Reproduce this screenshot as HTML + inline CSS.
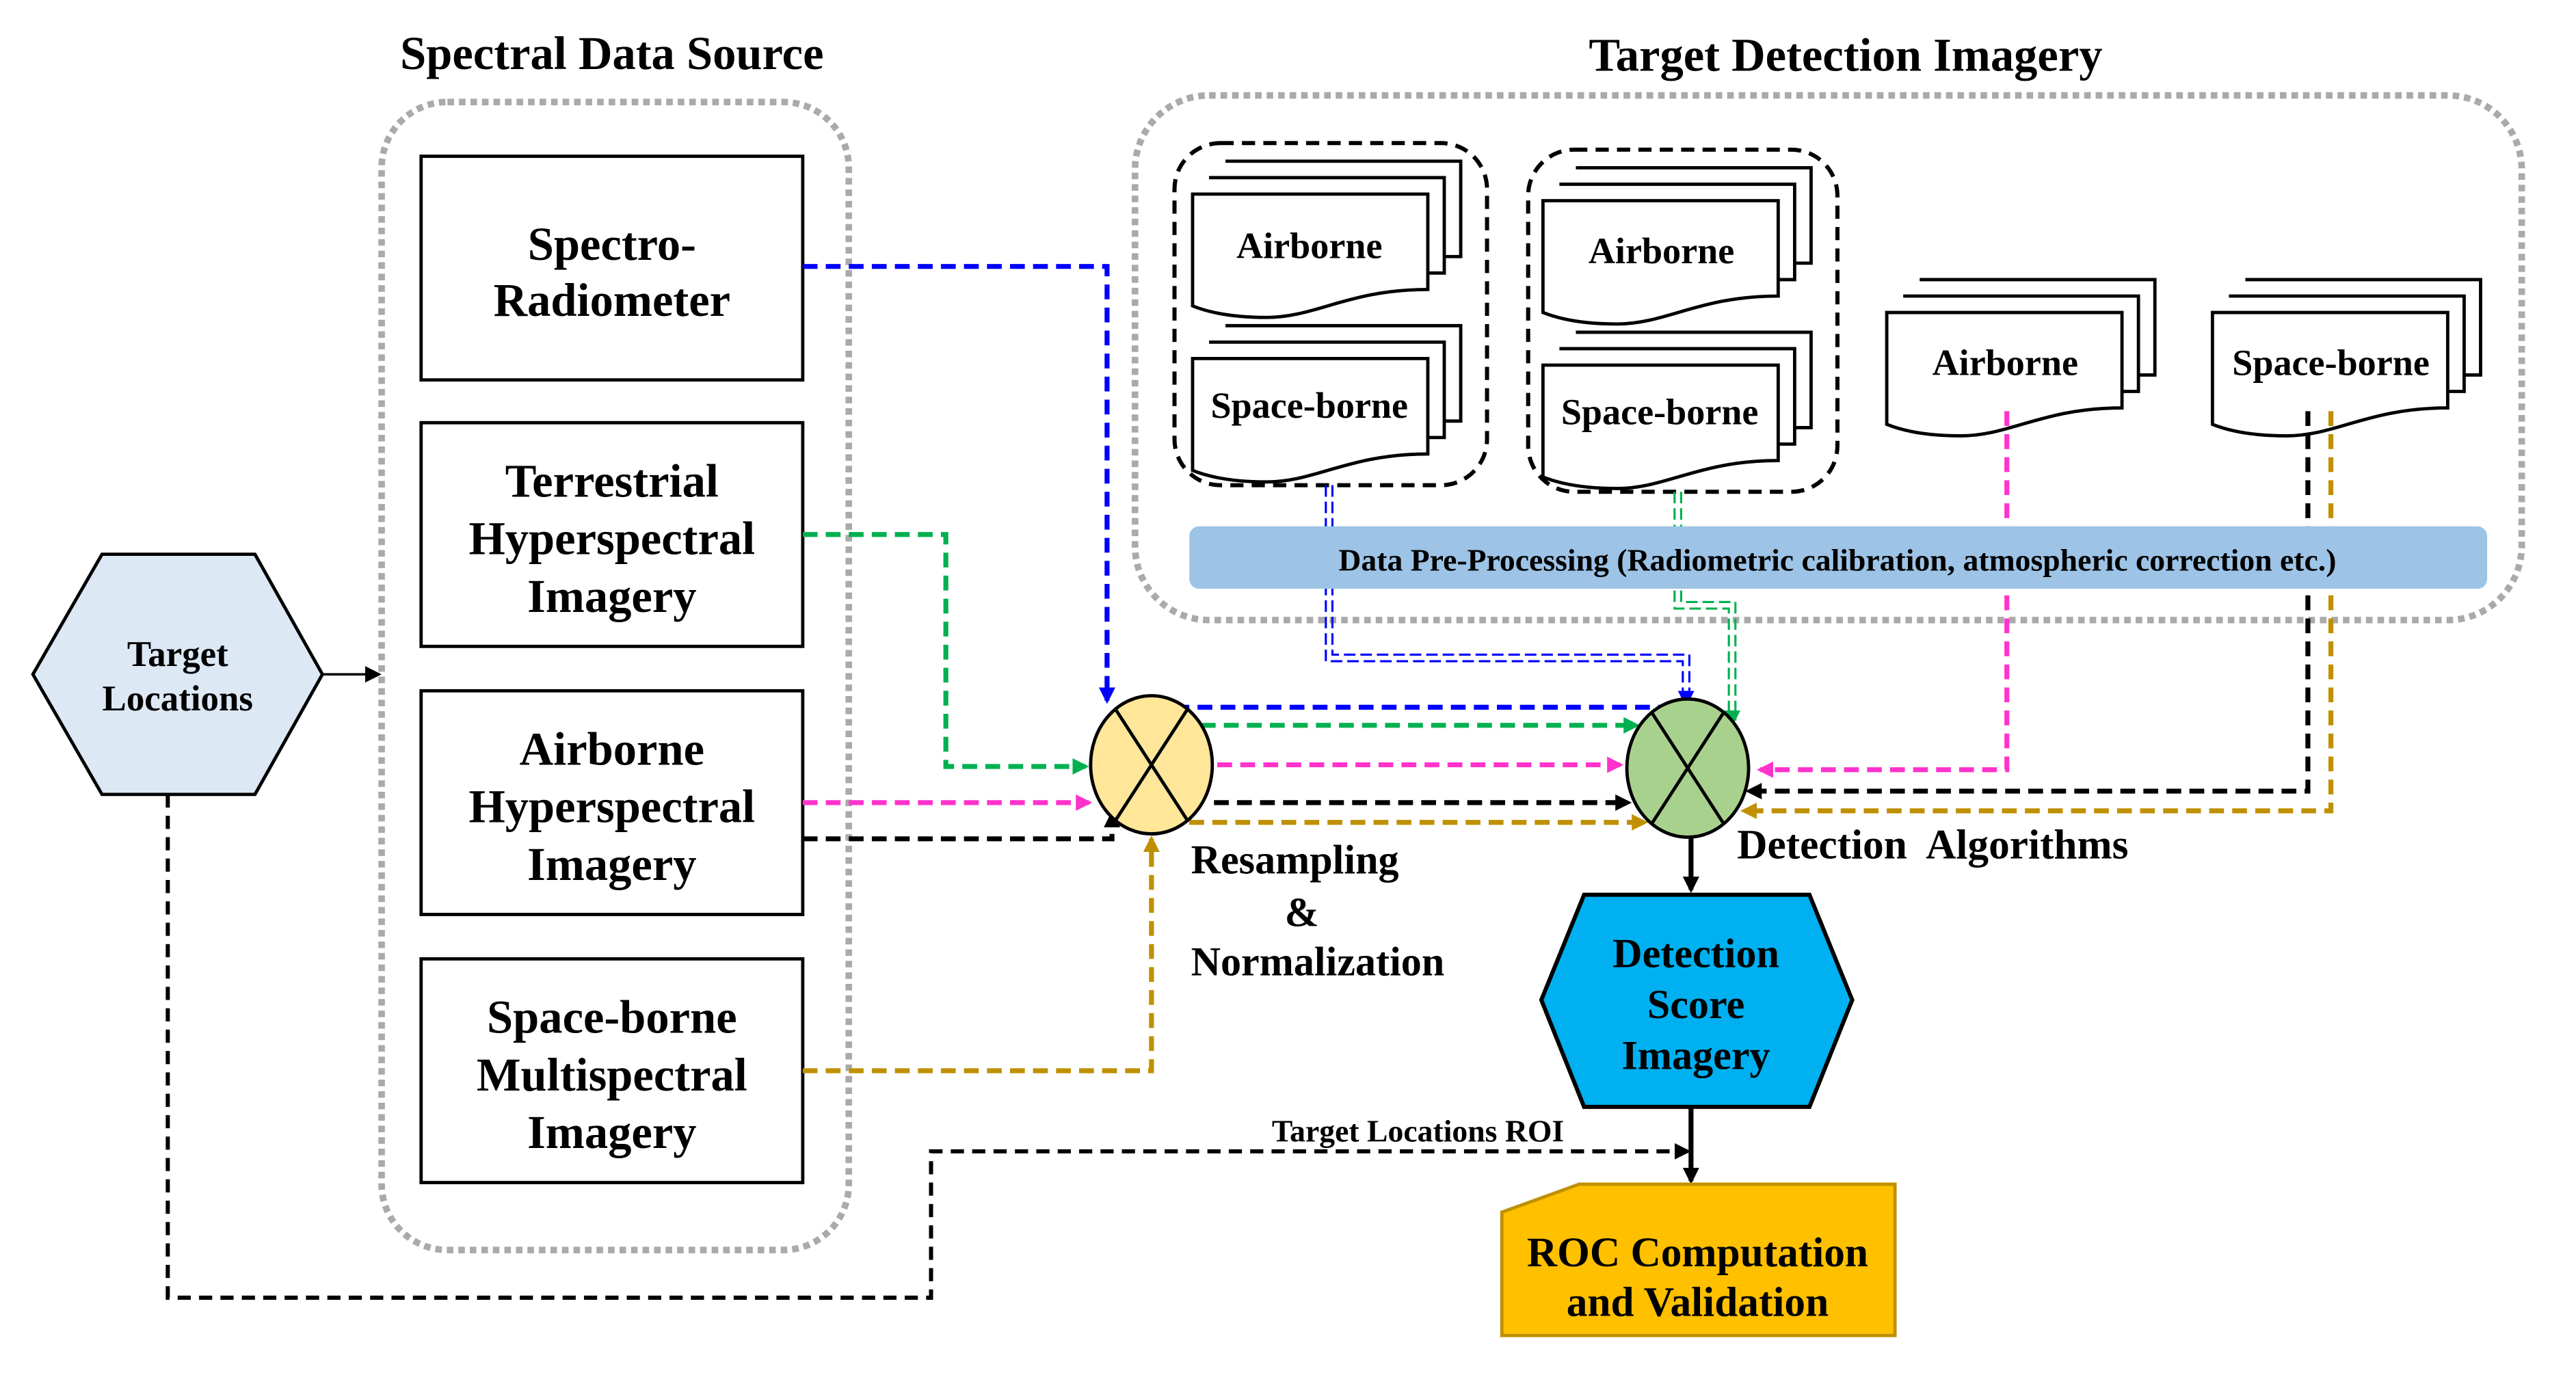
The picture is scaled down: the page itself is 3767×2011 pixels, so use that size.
<!DOCTYPE html>
<html><head><meta charset="utf-8"><style>html,body{margin:0;padding:0;background:#fff}svg{display:block}</style></head><body>
<svg width="3767" height="2011" viewBox="0 0 1566 836" preserveAspectRatio="none" xmlns="http://www.w3.org/2000/svg" font-family="Liberation Serif, serif" font-weight="bold">
<defs>
<marker id="ak" markerWidth="10" markerHeight="10" refX="8" refY="5" orient="auto" markerUnits="userSpaceOnUse"><path d="M0,0 L10,5 L0,10 z" fill="#000"/></marker>
<marker id="ab" markerWidth="10" markerHeight="10" refX="8" refY="5" orient="auto" markerUnits="userSpaceOnUse"><path d="M0,0 L10,5 L0,10 z" fill="#0000ff"/></marker>
<marker id="ag" markerWidth="10" markerHeight="10" refX="8" refY="5" orient="auto" markerUnits="userSpaceOnUse"><path d="M0,0 L10,5 L0,10 z" fill="#00b050"/></marker>
<marker id="ap" markerWidth="10" markerHeight="10" refX="8" refY="5" orient="auto" markerUnits="userSpaceOnUse"><path d="M0,0 L10,5 L0,10 z" fill="#ff33cc"/></marker>
<marker id="ao" markerWidth="10" markerHeight="10" refX="8" refY="5" orient="auto" markerUnits="userSpaceOnUse"><path d="M0,0 L10,5 L0,10 z" fill="#bf9000"/></marker>
<g id="doc">
<path d="M20,-20 H163 V38 H143" fill="#fff" stroke="#000" stroke-width="2"/>
<path d="M10,-10 H153 V48 H143" fill="#fff" stroke="#000" stroke-width="2"/>
<path d="M0,0 H143 V58 C95,58 75,75 45,75 C25,75 10,72 0,68 Z" fill="#fff" stroke="#000" stroke-width="2"/>
</g>
</defs>
<text x="372" y="42" font-size="28.5" text-anchor="middle">Spectral Data Source</text>
<text x="1122" y="43" font-size="28.5" text-anchor="middle">Target Detection Imagery</text>
<rect x="232" y="62" width="284" height="698" rx="40" fill="none" stroke="#aaa" stroke-width="4" stroke-dasharray="4 3"/>
<rect x="690" y="58" width="843" height="319" rx="45" fill="none" stroke="#aaa" stroke-width="4" stroke-dasharray="4 3"/>
<g fill="#fff" stroke="#000" stroke-width="2">
<rect x="256" y="95" width="232" height="136"/><rect x="256" y="257" width="232" height="136"/>
<rect x="256" y="420" width="232" height="136"/><rect x="256" y="583" width="232" height="136"/>
</g>
<g font-size="28.5" text-anchor="middle">
<text x="372" y="158">Spectro-</text><text x="372" y="192">Radiometer</text>
<text x="372" y="302">Terrestrial</text><text x="372" y="337">Hyperspectral</text><text x="372" y="372">Imagery</text>
<text x="372" y="465">Airborne</text><text x="372" y="500">Hyperspectral</text><text x="372" y="535">Imagery</text>
<text x="372" y="628">Space-borne</text><text x="372" y="663">Multispectral</text><text x="372" y="698">Imagery</text>
</g>
<polygon points="20,410 62,337 155,337 196,410 155,483 62,483" fill="#dce8f4" stroke="#000" stroke-width="2"/>
<text x="108" y="405" font-size="22" text-anchor="middle">Target</text><text x="108" y="432" font-size="22" text-anchor="middle">Locations</text>
<line x1="196" y1="410" x2="230" y2="410" stroke="#000" stroke-width="1.5" marker-end="url(#ak)"/>
<rect x="714" y="87" width="190" height="208" rx="28" fill="none" stroke="#000" stroke-width="2.5" stroke-dasharray="8 5"/>
<rect x="929" y="91" width="188" height="208" rx="28" fill="none" stroke="#000" stroke-width="2.5" stroke-dasharray="8 5"/>
<use href="#doc" x="725" y="118"/><use href="#doc" x="725" y="218"/>
<use href="#doc" x="938" y="122"/><use href="#doc" x="938" y="222"/>
<use href="#doc" x="1147" y="190"/><use href="#doc" x="1345" y="190"/>
<g font-size="22.5" text-anchor="middle">
<text x="796" y="157">Airborne</text><text x="796" y="254">Space-borne</text>
<text x="1010" y="160">Airborne</text><text x="1009" y="258">Space-borne</text>
<text x="1219" y="228">Airborne</text><text x="1417" y="228">Space-borne</text>
</g>
<g fill="none" stroke-width="1.3" stroke-dasharray="7 3">
<path d="M806,295 V402 H1023 V426" stroke="#0000ff"/><path d="M810,295 V398 H1027 V426" stroke="#0000ff"/>
<path d="M1018,299 V370 H1051 V438" stroke="#00b050"/><path d="M1022,299 V366 H1055 V438" stroke="#00b050"/>
</g>
<path d="M1025,420 V428" stroke="#0000ff" stroke-width="2" marker-end="url(#ab)"/>
<path d="M1053,432 V440" stroke="#00b050" stroke-width="2" marker-end="url(#ag)"/>
<g fill="none" stroke-width="3" stroke-dasharray="9 5">
<path d="M488,162 H673 V426" stroke="#0000ff" marker-end="url(#ab)"/>
<path d="M488,325 H575 V466 H660" stroke="#00b050" marker-end="url(#ag)"/>
<path d="M488,488 H662" stroke="#ff33cc" marker-end="url(#ap)"/>
<path d="M488,510 H676 V495" stroke="#000" marker-end="url(#ak)"/>
<path d="M488,651 H700 V510" stroke="#bf9000" marker-end="url(#ao)"/>
<path d="M714,430 H1030" stroke="#0000ff" marker-end="url(#ab)"/>
<path d="M730,441 H995" stroke="#00b050" marker-end="url(#ag)"/>
<path d="M740,465 H985" stroke="#ff33cc" marker-end="url(#ap)"/>
<path d="M738,488 H990" stroke="#000" marker-end="url(#ak)"/>
<path d="M723,500 H1000" stroke="#bf9000" marker-end="url(#ao)"/>
<path d="M1220,250 V468 H1070" stroke="#ff33cc" marker-end="url(#ap)"/>
<path d="M1403,250 V481 H1063" stroke="#000" marker-end="url(#ak)"/>
<path d="M1417,250 V493 H1060" stroke="#bf9000" marker-end="url(#ao)"/>
</g>
<rect x="723" y="320" width="789" height="38" rx="6" fill="#9dc3e6"/>
<text x="1117" y="347" font-size="19" text-anchor="middle">Data Pre-Processing (Radiometric calibration, atmospheric correction etc.)</text>
<ellipse cx="700" cy="465" rx="37" ry="42" fill="#ffe699" stroke="#000" stroke-width="2"/>
<path d="M678,431 L722,499 M722,431 L678,499" stroke="#000" stroke-width="2"/>
<ellipse cx="1026" cy="467" rx="37" ry="42" fill="#a9d18e" stroke="#000" stroke-width="2"/>
<path d="M1004,433 L1048,501 M1048,433 L1004,501" stroke="#000" stroke-width="2"/>
<text x="724" y="531" font-size="25">Resampling</text>
<text x="781" y="563" font-size="25">&amp;</text>
<text x="724" y="593" font-size="25">Normalization</text>
<text x="1056" y="522" font-size="25.5" xml:space="preserve">Detection  Algorithms</text>
<line x1="1028" y1="509" x2="1028" y2="541" stroke="#000" stroke-width="3" marker-end="url(#ak)"/>
<polygon points="937,608 963,544 1100,544 1126,608 1100,673 963,673" fill="#00b0f0" stroke="#000" stroke-width="2.5"/>
<g font-size="25" text-anchor="middle"><text x="1031" y="588">Detection</text><text x="1031" y="619">Score</text><text x="1031" y="650">Imagery</text></g>
<line x1="1028" y1="673" x2="1028" y2="718" stroke="#000" stroke-width="3" marker-end="url(#ak)"/>
<path d="M102,483 V789 H566 V700 H1026" fill="none" stroke="#000" stroke-width="2.5" stroke-dasharray="8 5" marker-end="url(#ak)"/>
<text x="862" y="694" font-size="19" text-anchor="middle">Target Locations ROI</text>
<polygon points="913,737 960,720 1152,720 1152,812 913,812" fill="#ffc000" stroke="#bf9000" stroke-width="2"/>
<g font-size="25.5" text-anchor="middle"><text x="1032" y="770">ROC Computation</text><text x="1032" y="800">and Validation</text></g>
</svg>
</body></html>
